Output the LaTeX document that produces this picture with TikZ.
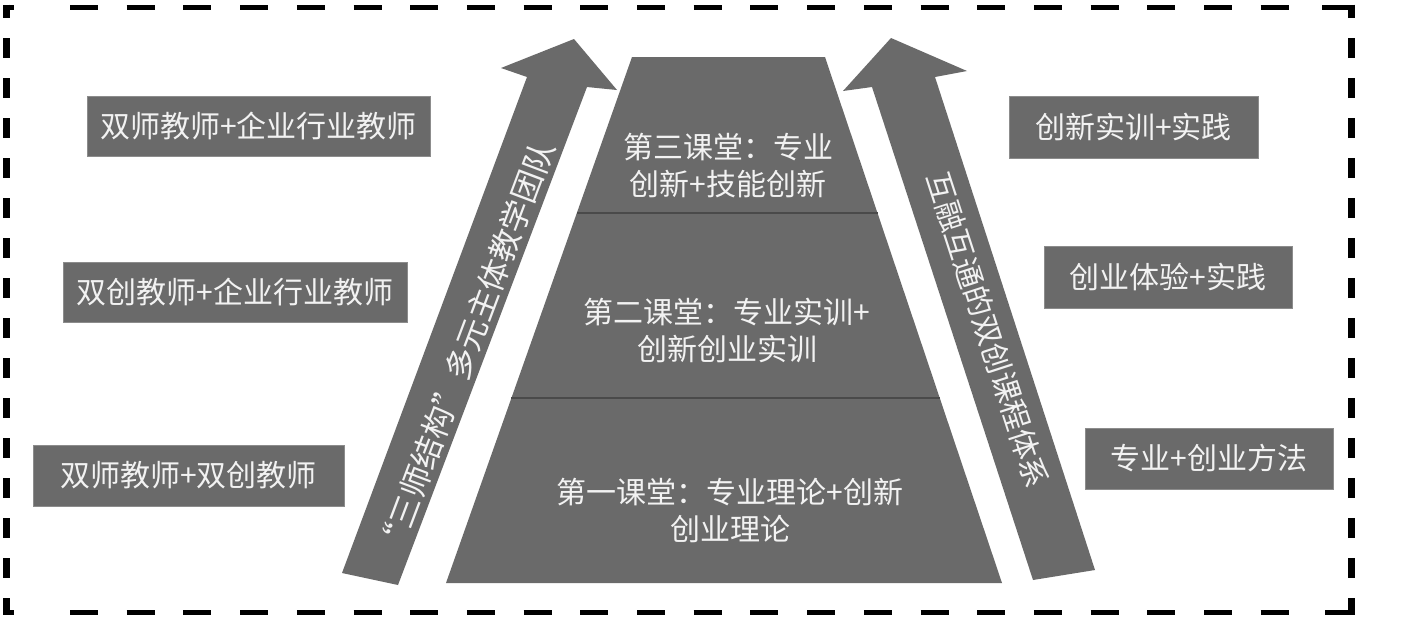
\documentclass[tikz,border=0pt]{standalone}
\usepackage{fontspec}
\setmainfont{Noto Sans CJK SC}
\usetikzlibrary{calc}
\definecolor{fillgray}{HTML}{6A6A6A}
\definecolor{edgegray}{HTML}{8C8C8C}
\definecolor{txtwhite}{HTML}{F2F2F2}
\definecolor{divgray}{HTML}{4A4A4A}
\tikzset{
  greybox/.style={fill=fillgray, draw=edgegray, line width=1pt, text=txtwhite,
    inner sep=0pt, font=\fontsize{30}{37}\selectfont},
  tiertext/.style={text=txtwhite, align=center, inner sep=0pt,
    font=\fontsize{30}{37}\selectfont},
  arrowtext/.style={text=txtwhite, inner sep=0pt, font=\fontsize{30}{37}\selectfont},
  blockarrow/.style={fill=fillgray},
  pyr/.style={fill=fillgray},
  divline/.style={draw=divgray, line width=1.5pt},
  hdash/.style={draw=black, line width=5pt, dash pattern=on 28pt off 28.7pt},
  vdash/.style={draw=black, line width=7pt, dash pattern=on 20pt off 20pt},
  cornerline/.style={draw=black, line width=5pt}
}
\begin{document}
\begin{tikzpicture}[x=1pt, y=-1pt]
\useasboundingbox (0,0) rectangle (1401,630);
\fill[white] (0,0) rectangle (1401,630);

% dashed frame
\draw[hdash] (70,7) -- (1300,7);
\draw[hdash] (70,612) -- (1300,612);
\draw[vdash, dash phase=6.5pt] (6,4.5) -- (6,615);
\draw[vdash, dash phase=6.5pt] (1351,4.5) -- (1351,615);
\draw[cornerline] (3.5,7) -- (14,7);
\draw[cornerline] (3.5,612) -- (14,612);
\draw[cornerline] (1322,7) -- (1354,7);
\draw[cornerline] (1325,612) -- (1354,612);

% pyramid
\coordinate (ptl) at (632,57);
\coordinate (ptr) at (825,57);
\coordinate (pbr) at (1002,583);
\coordinate (pbl) at (446,583);
\fill[pyr] (ptl) -- (ptr) -- (pbr) -- (pbl) -- cycle;
\coordinate (d1l) at ($(ptl)!0.2966!(pbl)$);
\coordinate (d1r) at ($(ptr)!0.2966!(pbr)$);
\coordinate (d2l) at ($(ptl)!0.6483!(pbl)$);
\coordinate (d2r) at ($(ptr)!0.6483!(pbr)$);
\draw[divline] (d1l) -- (d1r);
\draw[divline] (d2l) -- (d2r);

\node[tiertext] (t3) at (728,166) {第三课堂：专业\\创新+技能创新};
\node[tiertext] (t2) at (727,330) {第二课堂：专业实训+\\创新创业实训};
\node[tiertext] (t1) at (730,510) {第一课堂：专业理论+创新\\创业理论};

% left block arrow
\coordinate (la1) at (342,573);
\coordinate (la2) at (527,77);
\coordinate (la3) at (501,68);
\coordinate (la4) at (574,39);
\coordinate (la5) at (617,90);
\coordinate (la6) at (587,87);
\coordinate (la7) at (398,585);
\fill[blockarrow] (la1) -- (la2) -- (la3) -- (la4) -- (la5) -- (la6) -- (la7) -- cycle;
\node[arrowtext, rotate=69.3, font=\fontsize{31.5}{37}\selectfont] (lat) at (466,349) {“三师结构”多元主体教学团队};

% right block arrow
\coordinate (ra1) at (1033,580);
\coordinate (ra2) at (872,87);
\coordinate (ra3) at (843,91);
\coordinate (ra4) at (891,38);
\coordinate (ra5) at (967,71);
\coordinate (ra6) at (935,77);
\coordinate (ra7) at (1095,570);
\fill[blockarrow] (ra1) -- (ra2) -- (ra3) -- (ra4) -- (ra5) -- (ra6) -- (ra7) -- cycle;
\node[arrowtext, rotate=-72] (rat) at (988,330) {互融互通的双创课程体系};

% left boxes
\node[greybox, minimum width=343pt, minimum height=60pt] (b1) at (258.5,126) {双师教师+企业行业教师};
\node[greybox, minimum width=344pt, minimum height=60pt] (b2) at (235,292) {双创教师+企业行业教师};
\node[greybox, minimum width=311pt, minimum height=61pt] (b3) at (188.5,475.5) {双师教师+双创教师};

% right boxes
\node[greybox, minimum width=249pt, minimum height=62pt] (b4) at (1133.5,127) {创新实训+实践};
\node[greybox, minimum width=248pt, minimum height=62pt] (b5) at (1168,277) {创业体验+实践};
\node[greybox, minimum width=248pt, minimum height=61pt] (b6) at (1209,458.5) {专业+创业方法};
\end{tikzpicture}
\end{document}
